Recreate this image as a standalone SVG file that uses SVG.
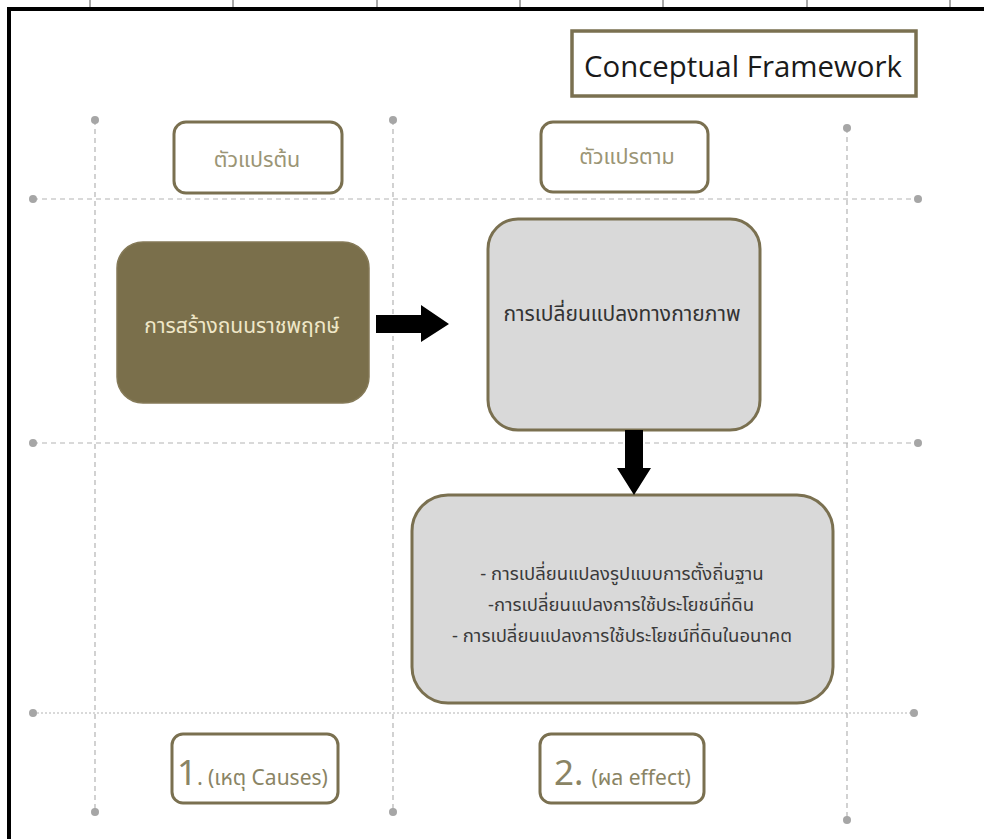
<svg xmlns="http://www.w3.org/2000/svg" width="984" height="839" viewBox="0 0 984 839">
<style>
.thai{font-family:"Noto Sans Thai","Tahoma","Liberation Sans","DejaVu Sans",sans-serif}
.grid{stroke:#b4b4b4;stroke-width:1.2;stroke-dasharray:5 4;fill:none}
.gridd{stroke:#b4b4b4;stroke-width:1.2;stroke-dasharray:2 2;fill:none}
.dot{fill:#a6a6a6}
.hdr{fill:#fff;stroke:#7a7050;stroke-width:3}
.hdrt{fill:#9b9575;font-size:21.5px;text-anchor:middle}
.gray{fill:#d9d9d9;stroke:#7a7050;stroke-width:3}
.dark{fill:#7a6f4b;stroke:#857a58;stroke-width:1.5}
.body{fill:#3a3a3a;font-size:18.5px;text-anchor:middle}
.lbl{fill:#8a8464}
.tick{stroke:#555;stroke-width:1}
</style>
<rect width="984" height="839" fill="#fff"/>
<g id="frame">
<line class="tick" x1="90" y1="0" x2="90" y2="8"/>
<line class="tick" x1="233" y1="0" x2="233" y2="8"/>
<line class="tick" x1="377" y1="0" x2="377" y2="8"/>
<line class="tick" x1="520" y1="0" x2="520" y2="8"/>
<line class="tick" x1="663" y1="0" x2="663" y2="8"/>
<line class="tick" x1="807" y1="0" x2="807" y2="8"/>
<line class="tick" x1="950" y1="0" x2="950" y2="8"/>
<line x1="7" y1="9" x2="984" y2="9" stroke="#000" stroke-width="4"/>
<line x1="9" y1="7" x2="9" y2="839" stroke="#000" stroke-width="4"/>
</g>
<g id="grid">
<line class="grid" x1="95" y1="120" x2="95" y2="812"/>
<line class="grid" x1="393" y1="120" x2="393" y2="812"/>
<line class="grid" x1="847" y1="128" x2="847" y2="820"/>
<line class="grid" x1="33" y1="199" x2="918" y2="199"/>
<line class="grid" x1="33" y1="443" x2="918" y2="443"/>
<line class="gridd" x1="33" y1="713" x2="914" y2="713"/>
<circle class="dot" cx="95" cy="120" r="4"/>
<circle class="dot" cx="393" cy="120" r="4"/>
<circle class="dot" cx="847" cy="128" r="4"/>
<circle class="dot" cx="95" cy="812" r="4"/>
<circle class="dot" cx="393" cy="812" r="4"/>
<circle class="dot" cx="847" cy="820" r="4"/>
<circle class="dot" cx="33" cy="199" r="4"/>
<circle class="dot" cx="918" cy="199" r="4"/>
<circle class="dot" cx="33" cy="443" r="4"/>
<circle class="dot" cx="918" cy="443" r="4"/>
<circle class="dot" cx="33" cy="713" r="4"/>
<circle class="dot" cx="914" cy="713" r="4"/>
</g>
<g id="title">
<rect x="572" y="31" width="344" height="65" fill="#fff" stroke="#7a7050" stroke-width="3.5"/>
<text x="743" y="77" font-family="Open Sans, Noto Sans, sans-serif" font-size="29" fill="#1a1a1a" text-anchor="middle" textLength="318" lengthAdjust="spacingAndGlyphs">Conceptual Framework</text>
</g>
<g id="hdr-cause">
<rect class="hdr" x="174" y="122" width="168" height="71" rx="12"/>
<text class="thai hdrt" x="257" y="167">ตัวแปรต้น</text>
</g>
<g id="hdr-effect">
<rect class="hdr" x="541" y="122" width="167" height="70" rx="12"/>
<text class="thai hdrt" x="627" y="164">ตัวแปรตาม</text>
</g>
<g id="node-road">
<rect class="dark" x="117" y="242" width="252" height="161" rx="26"/>
<text class="thai" x="242" y="333" fill="#efe7c8" font-size="21" text-anchor="middle">การสร้างถนนราชพฤกษ์</text>
</g>
<g id="node-physical">
<rect class="gray" x="488" y="219" width="272" height="211" rx="30"/>
<text class="thai body" x="622" y="321" style="font-size:21px;fill:#333">การเปลี่ยนแปลงทางกายภาพ</text>
</g>
<g id="node-results">
<rect class="gray" x="412" y="495" width="421" height="208" rx="36"/>
<text class="thai body" x="622" y="580">- การเปลี่ยนแปลงรูปแบบการตั้งถิ่นฐาน</text>
<text class="thai body" x="621" y="611">-การเปลี่ยนแปลงการใช้ประโยชน์ที่ดิน</text>
<text class="thai body" x="622" y="642">- การเปลี่ยนแปลงการใช้ประโยชน์ที่ดินในอนาคต</text>
</g>
<g id="connectors">
<polygon points="376,315 421,315 421,305 449,324 421,342 421,333 376,333" fill="#000"/>
<polygon points="625,430 643,430 643,468 651,468 634,495 617,468 625,468" fill="#000"/>
</g>
<g id="lbl-cause">
<rect class="hdr" x="172" y="734" width="166" height="69" rx="11"/>
<text class="thai lbl" x="177" y="785"><tspan font-size="35">1</tspan><tspan font-size="22">.</tspan><tspan font-size="21" dx="5">(เหตุ Causes)</tspan></text>
</g>
<g id="lbl-effect">
<rect class="hdr" x="540" y="734" width="164" height="69" rx="11"/>
<text class="thai lbl" x="554" y="785"><tspan font-size="35">2.</tspan><tspan font-size="21" dx="8">(ผล effect)</tspan></text>
</g>
</svg>
